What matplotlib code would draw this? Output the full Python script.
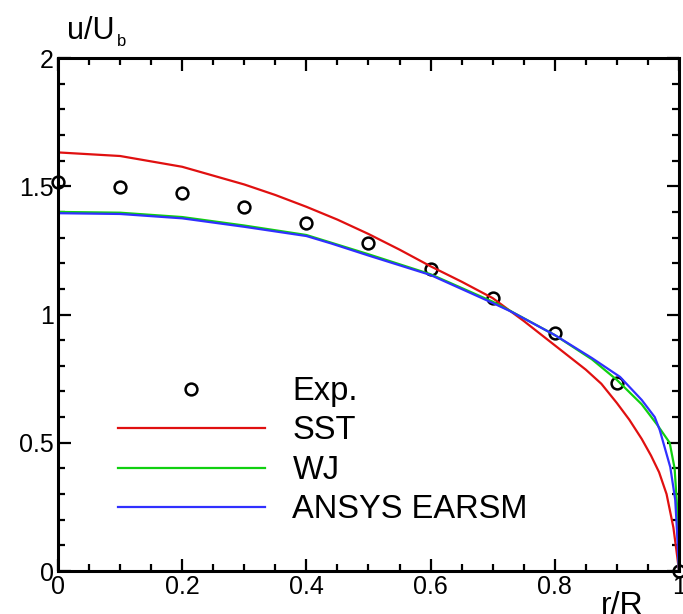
import matplotlib
matplotlib.use('Agg')
from matplotlib import pyplot as plt
from matplotlib.ticker import MultipleLocator

# data
exp_r = [0.0, 0.1, 0.2, 0.3, 0.4, 0.5, 0.6, 0.7, 0.8, 0.9, 1.0]
exp_u = [1.518, 1.496, 1.472, 1.418, 1.358, 1.28, 1.177, 1.066, 0.927, 0.732, 0.0]

sst_r = [0.0, 0.1, 0.2, 0.3, 0.35, 0.4, 0.45, 0.5, 0.55, 0.6, 0.65, 0.7, 0.75, 0.8, 0.85, 0.875, 0.9, 0.92, 0.94, 0.955, 0.968, 0.98, 0.991, 0.997, 1.0]
sst_u = [1.632, 1.618, 1.576, 1.507, 1.466, 1.42, 1.37, 1.314, 1.253, 1.188, 1.128, 1.064, 0.975, 0.88, 0.785, 0.73, 0.655, 0.59, 0.515, 0.45, 0.385, 0.30, 0.17, 0.06, 0.0]

wj_r = [0.0, 0.1, 0.2, 0.3, 0.4, 0.44, 0.5, 0.6, 0.7, 0.73, 0.8, 0.86, 0.9, 0.94, 0.965, 0.985, 0.993, 0.997, 1.0]
wj_u = [1.40, 1.397, 1.38, 1.347, 1.31, 1.28, 1.235, 1.157, 1.05, 1.012, 0.92, 0.825, 0.745, 0.65, 0.57, 0.5, 0.4, 0.25, 0.0]

earsm_r = [0.0, 0.1, 0.2, 0.3, 0.4, 0.44, 0.5, 0.6, 0.7, 0.73, 0.8, 0.86, 0.905, 0.94, 0.961, 0.969, 0.986, 0.994, 0.997, 1.0]
earsm_u = [1.395, 1.392, 1.375, 1.342, 1.306, 1.277, 1.23, 1.154, 1.045, 1.011, 0.92, 0.83, 0.757, 0.667, 0.60, 0.55, 0.405, 0.277, 0.148, 0.0]

x_ticks = [0, 0.2, 0.4, 0.6, 0.8, 1.0]
x_labels = ['0', '0.2', '0.4', '0.6', '0.8', '1']
y_ticks = [0, 0.5, 1, 1.5, 2]
y_labels = ['0', '0.5', '1', '1.5', '2']

plt.rcParams['font.family'] = 'Liberation Sans'
fig = plt.figure(figsize=(6.83, 6.14), dpi=100)
ax = fig.add_axes([0.0849, 0.070, 0.9092, 0.8355])

red = '#e01010'
green = '#10d010'
blue = '#3030ff'

ax.plot(exp_r, exp_u, 'o', mfc='none', mec='k', mew=1.8, ms=8.5, clip_on=False, label='Exp.')
ax.plot(sst_r, sst_u, color=red, lw=1.6, label='SST')
ax.plot(wj_r, wj_u, color=green, lw=1.6, label='WJ')
ax.plot(earsm_r, earsm_u, color=blue, lw=1.6, label='ANSYS EARSM')

ax.set_xlim(0, 1)
ax.set_ylim(0, 2)
ax.set_xticks(x_ticks)
ax.set_yticks(y_ticks)
ax.set_xticklabels(x_labels, fontsize=18)
ax.set_yticklabels(y_labels, fontsize=18)
ax.xaxis.set_minor_locator(MultipleLocator(0.05))
ax.yaxis.set_minor_locator(MultipleLocator(0.1))
ax.tick_params(which='both', direction='in', top=True, right=True, width=1.6)
ax.tick_params(which='major', length=9, pad=3)
ax.tick_params(which='minor', length=5)
for s in ax.spines.values():
    s.set_linewidth(2.2)

ax.legend(loc='upper left', bbox_to_anchor=(0.070, 0.412), frameon=False,
          handlelength=4.5, handletextpad=0.85, labelspacing=0.26, borderpad=0,
          prop={'family': 'Liberation Sans', 'size': 23.5})

fig.text(67 / 683, 1 - 39 / 614, 'u/U', fontsize=22, va='baseline')
fig.text(117 / 683, 1 - 46 / 614, 'b', fontsize=12, va='baseline')
fig.text(601 / 683, 1 - 614 / 614, 'r/R', fontsize=23, va='baseline')

plt.savefig('out.png', dpi=100)
